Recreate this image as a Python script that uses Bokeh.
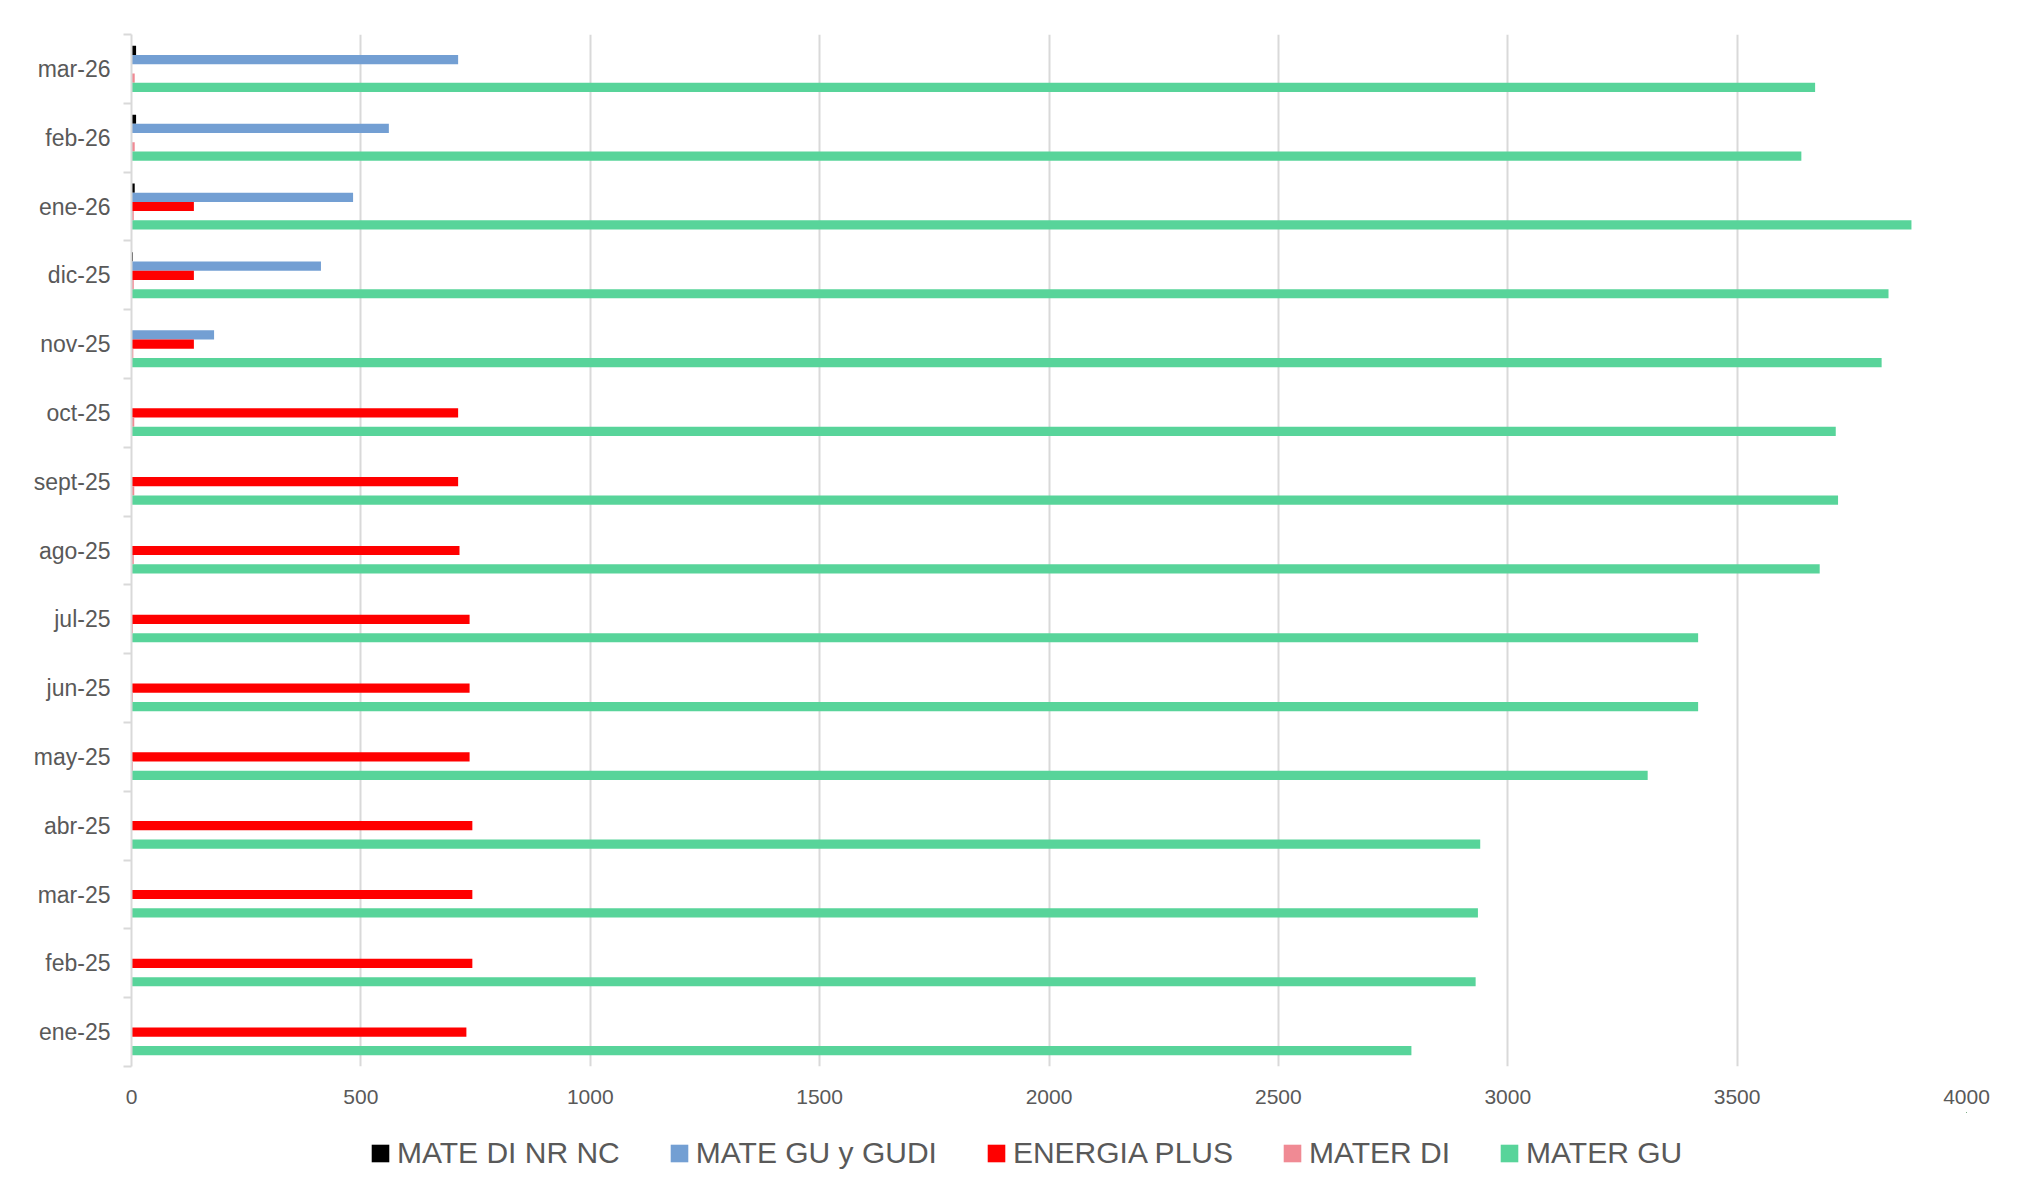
from bokeh.plotting import figure
from bokeh.layouts import column
from bokeh.models import (Range1d, FixedTicker, Legend, LegendItem, ColumnDataSource)
from bokeh.transform import dodge
from bokeh.embed import file_html
from bokeh.resources import INLINE

# ---- data (bottom to top) ----
months = ["ene-25", "feb-25", "mar-25", "abr-25", "may-25", "jun-25", "jul-25", "ago-25",
          "sept-25", "oct-25", "nov-25", "dic-25", "ene-26", "feb-26", "mar-26"]
mate_di_nr_nc = [0, 0, 0, 0, 0, 0, 0, 0, 0, 0, 0, 3, 7, 10, 10]
mate_gu_gudi = [0, 0, 0, 0, 0, 0, 0, 0, 0, 0, 180, 413, 483, 561, 712]
energia_plus = [730, 743, 743, 743, 737, 737, 737, 715, 712, 712, 136, 136, 136, 0, 0]
mater_di = [0, 0, 0, 0, 3, 3, 3, 5, 6, 6, 4, 5, 5, 7, 7]
mater_gu = [2790, 2930, 2935, 2940, 3305, 3415, 3415, 3680, 3720, 3715, 3815, 3830, 3880, 3640, 3670]
x_ticks = [0, 500, 1000, 1500, 2000, 2500, 3000, 3500, 4000]
series_names = ["MATE DI NR NC", "MATE GU y GUDI", "ENERGIA PLUS", "MATER DI", "MATER GU"]

FONT = "Liberation Sans"
TXT = "#595959"
GRID = "#d9d9d9"

n = len(months)
centers = [i + 0.5 for i in range(n)]
edges = list(range(n + 1))

src = ColumnDataSource(dict(pos=centers, month=months, a=mate_di_nr_nc, b=mate_gu_gudi,
                            c=energia_plus, d=mater_di, e=mater_gu))

p = figure(width=2023, height=1112, y_range=Range1d(0, n),
           x_range=Range1d(x_ticks[0], x_ticks[-1]),
           output_backend="svg", toolbar_location=None,
           min_border_left=131, min_border_right=57, min_border_top=34, min_border_bottom=46)
p.outline_line_color = None
p.background_fill_color = "white"
p.border_fill_color = "white"

bar_h = 0.134
cols = ["a", "b", "c", "d", "e"]
colors = ["#000000", "#739FD3", "#FF0000", "#F08A94", "#58D49A"]
offsets = [2 * bar_h, bar_h, 0.0, -bar_h, -2 * bar_h]
for col, color, off in zip(cols, colors, offsets):
    p.hbar(y=dodge("pos", off), left=0, right=col, height=bar_h,
           fill_color=color, line_color=None, source=src)

# x axis
xa = p.xaxis[0]
xa.ticker = FixedTicker(ticks=x_ticks)
xa.axis_line_color = None
xa.major_tick_line_color = None
xa.minor_tick_line_color = None
xa.major_label_text_font = FONT
xa.major_label_text_font_size = "21px"
xa.major_label_text_color = TXT
xa.major_label_standoff = 17

p.xgrid.ticker = FixedTicker(ticks=x_ticks)
p.xgrid.grid_line_color = GRID
p.xgrid.grid_line_width = 2
p.ygrid.grid_line_color = None

# y axis: month labels at centers, tick marks at category boundaries
ya = p.yaxis[0]
ya.ticker = FixedTicker(ticks=centers, minor_ticks=edges)
ya.major_label_overrides = {c: m for c, m in zip(centers, months)}
ya.axis_line_color = GRID
ya.axis_line_width = 2
ya.major_tick_line_color = None
ya.major_tick_out = 0
ya.major_tick_in = 0
ya.minor_tick_line_color = GRID
ya.minor_tick_line_width = 2
ya.minor_tick_out = 8
ya.minor_tick_in = 0
ya.major_label_text_font = FONT
ya.major_label_text_font_size = "23px"
ya.major_label_text_color = TXT
ya.major_label_standoff = 13

# ---- legend strip below the chart (same series, drawn out of view) ----
lf = figure(width=2023, height=83, x_range=Range1d(-2, -1), y_range=Range1d(-2, -1),
            output_backend="svg", toolbar_location=None,
            x_axis_location=None, y_axis_location=None,
            min_border_left=0, min_border_right=0, min_border_top=0, min_border_bottom=0)
lf.outline_line_color = None
lf.grid.grid_line_color = None
lf.background_fill_color = "white"
lf.border_fill_color = "white"
leg_renderers = []
for col, color, off in zip(cols, colors, offsets):
    r = lf.hbar(y=dodge("pos", off), left=0, right=col, height=bar_h,
                fill_color=color, line_color=None, source=src)
    leg_renderers.append(r)

legend = Legend(items=[LegendItem(label=nm, renderers=[r]) for nm, r in zip(series_names, leg_renderers)],
                orientation="horizontal", location=(238, 25),
                label_text_font=FONT, label_text_font_size="30px", label_text_color=TXT,
                glyph_width=22, glyph_height=22, label_standoff=6, spacing=48,
                padding=0, margin=0, border_line_color=None, background_fill_alpha=0)
lf.add_layout(legend, "center")

layout = column(p, lf, spacing=0)
open("out.html", "w").write(file_html(layout, INLINE))
